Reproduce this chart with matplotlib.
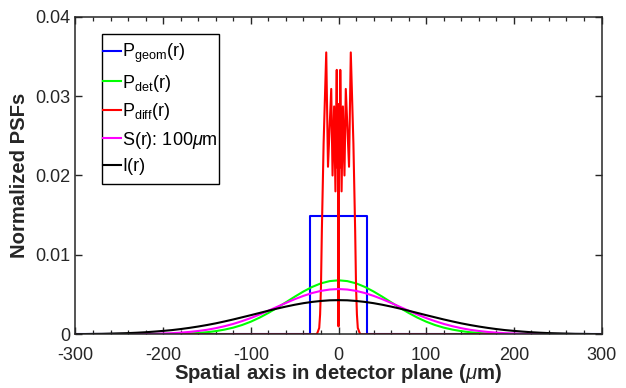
import numpy as np
import matplotlib
matplotlib.use("Agg")
import matplotlib.pyplot as plt
from matplotlib.ticker import MultipleLocator
from matplotlib.patches import Rectangle
from matplotlib.transforms import IdentityTransform

plt.rcParams['font.family'] = ['Liberation Sans', 'DejaVu Sans']
plt.rcParams['mathtext.fontset'] = 'custom'
plt.rcParams['mathtext.rm'] = 'Liberation Sans'
plt.rcParams['mathtext.it'] = 'Liberation Sans:italic'
plt.rcParams['mathtext.bf'] = 'Liberation Sans:bold'

# ---------------- data ----------------
x_geom = [-300, -33, -33, 33, 33, 300]
y_geom = [0, 0, 0.0149, 0.0149, 0, 0]

x_gauss = list(range(-300, 301, 10))
y_det = [0, 0, 0, 0, 0, 0, 0, 0, 0, 0.00001,
         0.00002, 0.00004, 0.00006, 0.00010, 0.00017, 0.00026, 0.00040, 0.00059, 0.00084, 0.00117,
         0.00159, 0.00210, 0.00269, 0.00334, 0.00403, 0.00473, 0.00539, 0.00597, 0.00642, 0.00670,
         0.00680,
         0.00670, 0.00642, 0.00597, 0.00539, 0.00473, 0.00403, 0.00334, 0.00269, 0.00210, 0.00159,
         0.00117, 0.00084, 0.00059, 0.00040, 0.00026, 0.00017, 0.00010, 0.00006, 0.00004, 0.00002,
         0.00001, 0, 0, 0, 0, 0, 0, 0, 0, 0]
y_src = [0, 0, 0, 0, 0.00001, 0.00001, 0.00002, 0.00003, 0.00004, 0.00006,
         0.00010, 0.00014, 0.00021, 0.00030, 0.00042, 0.00057, 0.00077, 0.00102, 0.00131, 0.00166,
         0.00205, 0.00249, 0.00297, 0.00346, 0.00395, 0.00442, 0.00484, 0.00520, 0.00547, 0.00564,
         0.00570,
         0.00564, 0.00547, 0.00520, 0.00484, 0.00442, 0.00395, 0.00346, 0.00297, 0.00249, 0.00205,
         0.00166, 0.00131, 0.00102, 0.00077, 0.00057, 0.00042, 0.00030, 0.00021, 0.00014, 0.00010,
         0.00006, 0.00004, 0.00003, 0.00002, 0.00001, 0.00001, 0, 0, 0, 0]
y_img = [0.00002, 0.00003, 0.00005, 0.00006, 0.00009, 0.00012, 0.00015, 0.00020, 0.00026, 0.00034,
         0.00043, 0.00053, 0.00066, 0.00081, 0.00098, 0.00117, 0.00138, 0.00162, 0.00187, 0.00214,
         0.00241, 0.00269, 0.00297, 0.00324, 0.00349, 0.00372, 0.00392, 0.00408, 0.00420, 0.00428,
         0.00430,
         0.00428, 0.00420, 0.00408, 0.00392, 0.00372, 0.00349, 0.00324, 0.00297, 0.00269, 0.00241,
         0.00214, 0.00187, 0.00162, 0.00138, 0.00117, 0.00098, 0.00081, 0.00066, 0.00053, 0.00043,
         0.00034, 0.00026, 0.00020, 0.00015, 0.00012, 0.00009, 0.00006, 0.00005, 0.00003, 0.00002]

x_diff = [-300, -25, -24, -22, -21, -20, -19, -17, -14, -12, -8.3, -6.8, -5, -3.5, -2,
          -1.4, -0.9, -0.4, 0, 0.4, 0.9, 1.4,
          2, 3.5, 5, 6.8, 8.3, 12, 14, 17, 19, 20, 21, 22, 24, 25, 300]
y_diff = [0, 0, 0.0002, 0.0008, 0.0025, 0.006, 0.013, 0.024, 0.0355, 0.0211, 0.0309, 0.0200, 0.0287, 0.0180, 0.0333,
          0.021, 0.029, 0.018, 0.001, 0.018, 0.029, 0.021,
          0.0333, 0.0180, 0.0287, 0.0200, 0.0309, 0.0211, 0.0355, 0.024, 0.013, 0.006, 0.0025, 0.0008, 0.0002, 0, 0]

labels = [r'P$_{\mathrm{geom}}$(r)', r'P$_{\mathrm{det}}$(r)', r'P$_{\mathrm{diff}}$(r)',
          r'S(r): 100$\mu$m', 'I(r)']
colors = ['#0000ff', '#00ff00', '#ff0000', '#ff00ff', '#000000']
x_ticks = [-300, -200, -100, 0, 100, 200, 300]
y_ticks = [0, 0.01, 0.02, 0.03, 0.04]
y_ticklabels = ['0', '0.01', '0.02', '0.03', '0.04']

# ---------------- plot ----------------
fig = plt.figure(figsize=(6.26, 3.88), dpi=100)
ax = fig.add_axes([0.1206, 0.1384, 0.8403, 0.8186])

gray = '#262626'
lw = 1.5
ax.plot(x_geom, y_geom, color=colors[0], lw=lw, label=labels[0])
ax.plot(x_gauss, y_det, color=colors[1], lw=lw, label=labels[1])
ax.plot(x_diff, y_diff, color=colors[2], lw=lw, label=labels[2])
ax.plot(x_gauss, y_src, color=colors[3], lw=lw, label=labels[3])
ax.plot(x_gauss, y_img, color=colors[4], lw=lw, label=labels[4])

ax.set_xlim(-300, 300)
ax.set_ylim(0, 0.04)
ax.set_xticks(x_ticks)
ax.set_xticklabels([str(v) for v in x_ticks])
ax.set_yticks(y_ticks)
ax.set_yticklabels(y_ticklabels)
ax.xaxis.set_minor_locator(MultipleLocator(20))

for s in ax.spines.values():
    s.set_color(gray)
    s.set_linewidth(1.1)
ax.tick_params(axis='both', which='major', direction='in', length=5, width=1.0,
               colors=gray, labelsize=13, top=True, right=True)
ax.tick_params(axis='x', which='major', pad=9)
ax.tick_params(axis='y', which='major', pad=4)
ax.tick_params(axis='x', which='minor', direction='in', length=3, width=0.9,
               colors=gray, top=True, bottom=True)

ax.set_xlabel(r'Spatial axis in detector plane ($\mu$m)', fontsize=14.6,
              fontweight='bold', color=gray, labelpad=-1)
ax.set_ylabel('Normalized PSFs', fontsize=14.6, fontweight='bold', color=gray, labelpad=4)

leg = ax.legend(loc='upper left', bbox_to_anchor=(0.0523, 0.921), borderaxespad=0,
                fontsize=13, handlelength=1.0, handletextpad=0.05, labelspacing=0.42,
                borderpad=0.0, frameon=False)
for h in leg.legend_handles:
    h.set_linewidth(1.5)

fig.canvas.draw()
bb = leg.get_window_extent()
pl, pr, pt, pb = 1.5, 1.5, 7.5, 9.0
frame = Rectangle((bb.x0 - pl, bb.y0 - pb), bb.width + pl + pr, bb.height + pt + pb,
                  transform=IdentityTransform(), facecolor='white', edgecolor='black',
                  linewidth=1.0, zorder=4.9)
ax.add_artist(frame)

fig.savefig('out.png', dpi=100)
